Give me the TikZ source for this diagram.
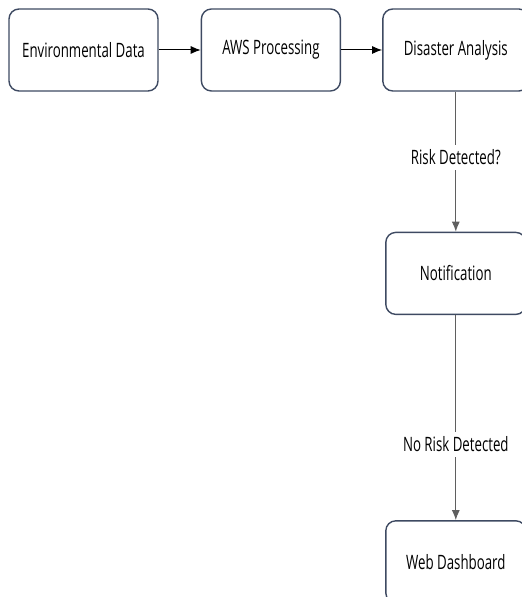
\documentclass[tikz,border=0pt]{standalone}
\usepackage{fontspec}
\setmainfont{Open Sans}[FakeStretch=0.67]
\usetikzlibrary{arrows.meta, positioning}
\definecolor{boxline}{RGB}{62, 74, 98}
\definecolor{flowgray}{RGB}{95, 95, 95}

\begin{document}
\begin{tikzpicture}[
  node distance=21pt and 21pt,
  box/.style={rectangle, rounded corners=5pt, draw=boxline, line width=0.7pt, fill=white,
              minimum height=41pt, align=center, font=\fontsize{9.9}{12}\selectfont},
  arr/.style={-{Latex[length=5pt, width=4pt]}, line width=0.5pt},
  lbl/.style={fill=white, text=black, inner sep=2.5pt, font=\fontsize{9.9}{12}\selectfont}
]
  \useasboundingbox (0,0) rectangle (260.5pt,-298.5pt);
  \node[box, minimum width=74.5pt] (env) at (41.75pt,-25pt) {Environmental Data};
  \node[box, minimum width=69.5pt, right=21pt of env] (aws) {AWS Processing};
  \node[box, minimum width=73pt, right=20.5pt of aws] (dis) {Disaster Analysis};
  \node[box, minimum width=70pt, below=70pt of dis] (notif) {Notification};
  \node[box, minimum width=70pt, below=102.5pt of notif] (web) {Web Dashboard};
  \draw[arr] (env) -- (aws);
  \draw[arr] (aws) -- (dis);
  \draw[arr, flowgray] (dis) -- node[lbl, pos=0.47] {Risk Detected?} (notif);
  \draw[arr, flowgray] (notif) -- node[lbl, pos=0.63] {No Risk Detected} (web);
\end{tikzpicture}
\end{document}
